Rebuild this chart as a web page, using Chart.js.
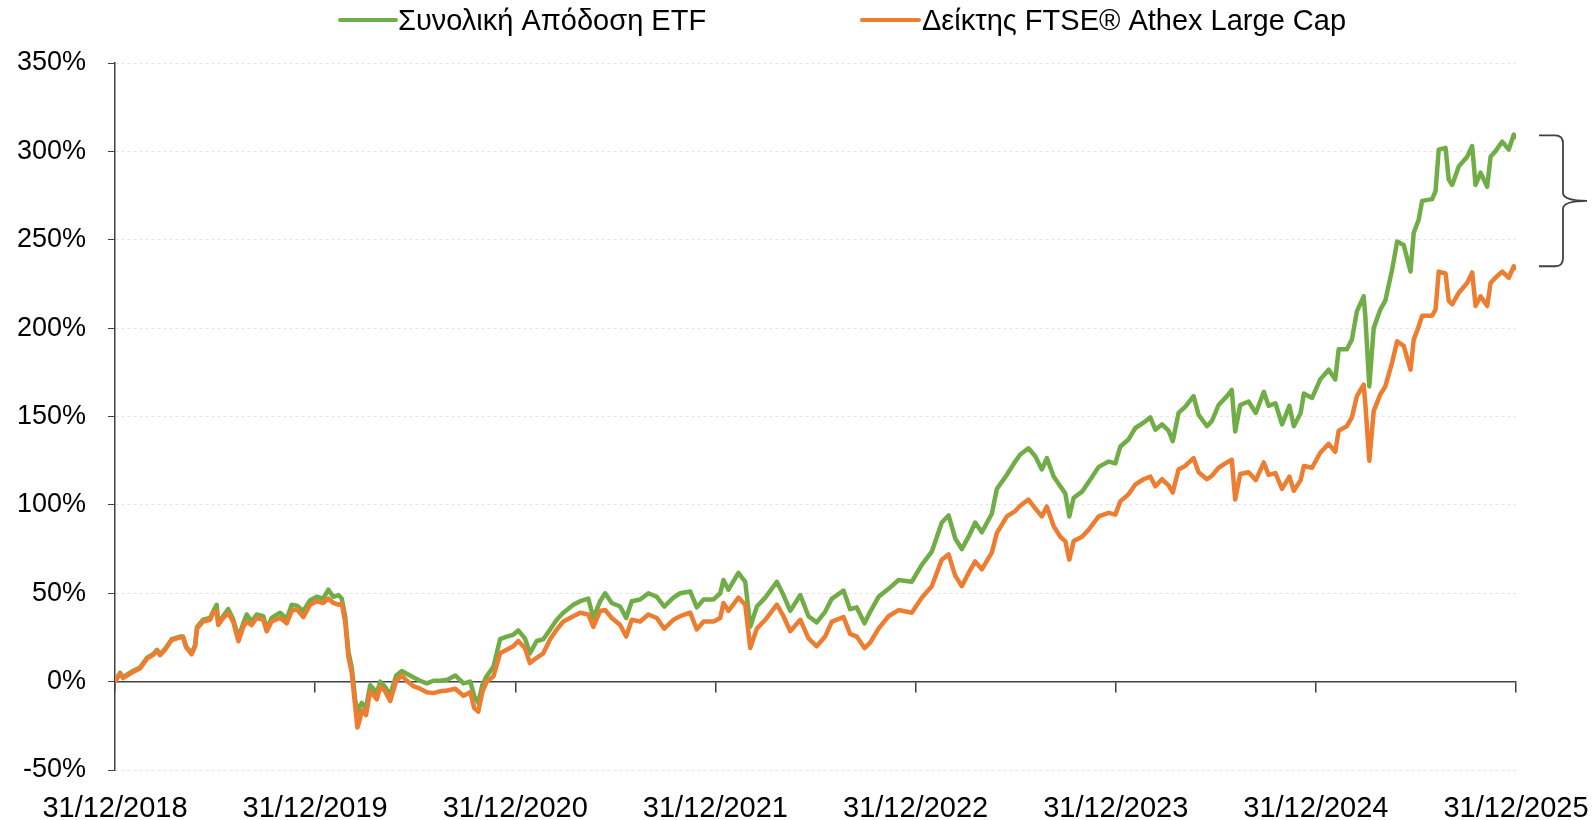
<!DOCTYPE html>
<html><head><meta charset="utf-8">
<script src="https://cdn.jsdelivr.net/npm/chart.js@4.4.1/dist/chart.umd.min.js"></script>
<style>html,body{margin:0;padding:0;background:#fff;}</style>
</head><body>
<canvas id="c" width="1593" height="820"></canvas>
<script>
// time in years since 31/12/2018
const timeYears = [0.000,0.025,0.040,0.090,0.125,0.160,0.190,0.210,0.225,0.250,0.283,0.325,0.340,0.355,0.383,0.400,0.410,0.440,0.475,0.490,0.508,0.516,0.540,0.566,0.590,0.617,0.641,0.658,0.683,0.708,0.741,0.758,0.783,0.825,0.858,0.883,0.908,0.941,0.975,1.008,1.040,1.066,1.091,1.116,1.133,1.150,1.166,1.183,1.200,1.211,1.222,1.233,1.254,1.275,1.291,1.308,1.325,1.350,1.375,1.405,1.433,1.458,1.490,1.524,1.558,1.591,1.624,1.660,1.700,1.741,1.775,1.795,1.815,1.835,1.857,1.891,1.924,1.957,1.990,2.015,2.048,2.073,2.107,2.140,2.174,2.207,2.240,2.290,2.324,2.365,2.390,2.424,2.449,2.482,2.524,2.554,2.582,2.624,2.665,2.707,2.744,2.790,2.824,2.874,2.907,2.941,2.991,3.024,3.040,3.065,3.115,3.149,3.174,3.207,3.249,3.307,3.340,3.374,3.424,3.465,3.506,3.548,3.582,3.640,3.673,3.706,3.745,3.773,3.815,3.865,3.915,3.981,4.031,4.081,4.131,4.165,4.198,4.231,4.265,4.298,4.331,4.381,4.406,4.456,4.498,4.523,4.564,4.598,4.631,4.656,4.690,4.723,4.748,4.768,4.790,4.832,4.865,4.915,4.965,4.998,5.023,5.064,5.098,5.139,5.173,5.198,5.231,5.264,5.285,5.314,5.347,5.389,5.414,5.456,5.481,5.514,5.556,5.580,5.597,5.622,5.664,5.700,5.740,5.764,5.798,5.831,5.868,5.890,5.924,5.940,5.981,6.022,6.064,6.097,6.114,6.155,6.180,6.205,6.239,6.247,6.267,6.289,6.322,6.347,6.381,6.406,6.439,6.473,6.489,6.514,6.531,6.581,6.598,6.614,6.648,6.664,6.681,6.714,6.756,6.781,6.798,6.823,6.856,6.873,6.897,6.931,6.964,6.989,7.000];
const etfReturn = [0,5,2.5,6,8,13.5,15.5,18,15.5,18.5,24,25.5,25.5,20,16,20.5,31,35,36,39.5,43.5,33,37,41,35.5,25,33,38,34,38,37,30,36,39,35.5,43.5,43,40,46,48,47,52,48,49,47,37,17,8,-10,-18,-14,-12,-15,-2,-4,-6.5,0,-3,-7.5,3.5,6,4.5,2.5,0.5,-1,0.5,0.5,1,3.5,-1,0,-8,-12,-2,3,8.5,24,25.5,26.5,29,24.5,16,23,24,29.5,35,39,43.5,45.5,47,36,45.5,50,44.5,42.5,36,45.5,46.5,50,48,42.5,47.5,50,51,42,46.5,46.5,50,57.5,52,61.5,56.5,31,42.5,47.5,56.5,49,40,49,37,33.5,39.5,47,51.5,41,42,33,39.5,48,52.5,57.5,56.5,66,73.5,90,94,81,75,82,90,84.5,95,109,117,124.5,128.5,132,127.5,120,126.5,116,110.5,106.5,93.5,104,107.5,113,121.5,124.5,123.5,133,137,143.5,146.5,149.5,142.5,145.5,142,136,152,155.5,161.5,151,144.5,147.5,156.5,161.5,165,141.5,156.5,158.5,152,164,156,157.5,145.5,156,144.5,152,163,160.5,171,176.5,171,188,188,193.5,209.5,218,207,167,200,210.5,215.5,233,249,247,232,254,261.5,272,273,277.5,301,302,284,281,291.5,297,303,281,288,280,297,300,305.5,301,309.5,307];
const indexReturn = [0,4.5,2,5.5,7.5,13,15,17.5,15,18,23.5,25,25,19.5,15.5,20,30,34,35,38.8,40,32,36,38.8,34,22.8,31,34,32,36,35,28.5,34,36,33,40,41,36.5,43.5,45.5,44.5,47,44.5,43.5,44,34,14,5,-14,-26,-22,-16,-19,-5.5,-7.5,-10,-3,-5.5,-11,0.5,3.5,0.5,-2.5,-4,-6,-6.5,-5.5,-5,-4,-8,-6,-15,-17,-6,0,3,16,18,20,23,19,10.5,13.5,16,24,29.5,34,37,39,38,31,40,40.5,36,32,25.5,35,34,38,36,30,35,37,39,29.5,34,34,36,44.5,40,47.5,43.5,19,30,35,43.5,37,28.5,35,24.5,20,25.5,34,36.5,27,25.5,19,22,30,37,40.5,39,47.5,54,69,72,60,54,61.5,68,63.5,73,84,93.5,96.5,99.5,103,98,93.5,99,88,82,79.5,69,79.5,82,86,93.5,95.5,94.5,102,106,111.5,114.5,116,110.5,114.5,111,107,120,122,126.5,118.5,114.5,116.5,121,124,125.5,103,117.5,118.5,114,124,117,118,109,116,108,114,122,121,129.5,134.5,130,142,144.5,149.5,161.5,168,157.5,125,153,162.5,167,180.5,192.5,190,176.5,193.5,201,207,207,210.5,232,231,215.5,213.5,220,225.5,231.5,212.5,218,212.5,225.5,228.5,232,228.5,235,233];
const yearLabels = ['31/12/2018','31/12/2019','31/12/2020','31/12/2021','31/12/2022','31/12/2023','31/12/2024','31/12/2025'];
const seriesNames = ['Συνολική Απόδοση ETF','Δείκτης FTSE® Athex Large Cap'];
const seriesColors = ['#70AD47','#ED7D31'];
const yMin = -50, yMax = 350, yStep = 50;
const braceRange = [309, 235];

const FONT = '"Liberation Sans", Arial, sans-serif';

const legendPlugin = {
  id: 'customLegend',
  afterDraw(chart) {
    const ctx = chart.ctx;
    ctx.save();
    ctx.font = '29px ' + FONT;
    ctx.textBaseline = 'middle';
    ctx.fillStyle = '#000';
    const items = [{lx: 340, lw: 56, tx: 398}, {lx: 862, lw: 57, tx: 922}];
    items.forEach((it, i) => {
      ctx.strokeStyle = seriesColors[i];
      ctx.lineWidth = 4;
      ctx.lineCap = 'round';
      ctx.beginPath();
      ctx.moveTo(it.lx, 20);
      ctx.lineTo(it.lx + it.lw, 20);
      ctx.stroke();
      ctx.fillText(seriesNames[i], it.tx, 22);
    });
    ctx.restore();
  }
};

const bracePlugin = {
  id: 'brace',
  afterDraw(chart) {
    const y = chart.scales.y;
    const top = y.getPixelForValue(braceRange[0]);
    const bot = y.getPixelForValue(braceRange[1]);
    const mid = (top + bot) / 2;
    const x0 = chart.chartArea.right + 23;
    const xv = x0 + 24;
    const xt = x0 + 48;
    const ctx = chart.ctx;
    ctx.save();
    ctx.strokeStyle = '#404040';
    ctx.lineWidth = 1.8;
    ctx.beginPath();
    ctx.moveTo(x0, top);
    ctx.lineTo(xv - 8, top);
    ctx.quadraticCurveTo(xv, top, xv, top + 8);
    ctx.lineTo(xv, mid - 8);
    ctx.quadraticCurveTo(xv, mid, xt, mid);
    ctx.moveTo(xt, mid);
    ctx.quadraticCurveTo(xv, mid, xv, mid + 8);
    ctx.lineTo(xv, bot - 8);
    ctx.quadraticCurveTo(xv, bot, xv - 8, bot);
    ctx.lineTo(x0, bot);
    ctx.stroke();
    ctx.restore();
  }
};

const mk = (vals) => timeYears.map((t, i) => ({x: t, y: vals[i]}));

new Chart(document.getElementById('c'), {
  type: 'line',
  data: {
    datasets: [
      {label: seriesNames[0], data: mk(etfReturn), borderColor: seriesColors[0], backgroundColor: seriesColors[0], borderWidth: 4.5, pointRadius: 0, tension: 0, order: 2, borderJoinStyle: 'round'},
      {label: seriesNames[1], data: mk(indexReturn), borderColor: seriesColors[1], backgroundColor: seriesColors[1], borderWidth: 4.5, pointRadius: 0, tension: 0, order: 1, borderJoinStyle: 'round'}
    ]
  },
  options: {
    responsive: false,
    animation: false,
    devicePixelRatio: 1,
    layout: {padding: {left: 0, right: 77, top: 63, bottom: 0}},
    plugins: {legend: {display: false}, tooltip: {enabled: false}},
    scales: {
      x: {
        type: 'linear', min: 0, max: 7,
        grid: {display: false, drawTicks: false},
        border: {display: false},
        ticks: {stepSize: 1, autoSkip: false, maxRotation: 0, padding: 22, color: '#000', font: {family: FONT, size: 29},
          callback: (v) => yearLabels[v]},
        afterFit: (s) => { s.height = 50; s.paddingLeft = 0; s.paddingRight = 0; }
      },
      x2: {
        type: 'linear', min: 0, max: 7, position: {y: 0},
        grid: {drawOnChartArea: false, drawTicks: true, tickLength: 10, color: '#404040', tickColor: '#404040', lineWidth: 1.5},
        border: {display: true, color: '#404040', width: 1.5},
        ticks: {stepSize: 1, display: false},
        afterFit: (s) => { s.paddingLeft = 0; s.paddingRight = 0; }
      },
      y: {
        min: yMin, max: yMax,
        grid: {
          color: (c) => c.tick && c.tick.value === 0 ? 'rgba(0,0,0,0)' : '#e4e4e4',
          tickColor: '#404040', tickLength: 7, lineWidth: 1
        },
        border: {display: true, color: '#404040', width: 1.5, dash: [3, 3]},
        ticks: {stepSize: yStep, padding: 22, color: '#000', font: {family: FONT, size: 27},
          callback: (v) => v + '%'},
        afterFit: (s) => { s.width = 115; }
      }
    }
  },
  plugins: [legendPlugin, bracePlugin]
});
</script>
</body></html>
